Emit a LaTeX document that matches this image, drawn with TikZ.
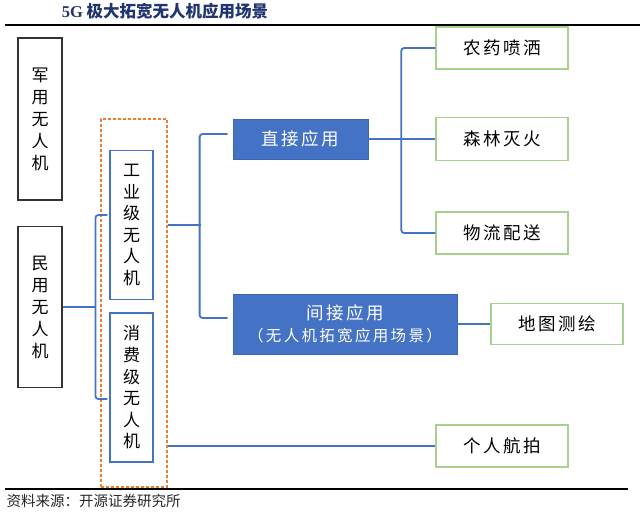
\documentclass[tikz,border=0pt]{standalone}
\usepackage{fontspec}
\setmainfont{Noto Sans CJK SC}
\newfontfamily\cjkw{Noto Sans CJK SC}[LetterSpace=15]
\newfontfamily\lserif{Liberation Serif}
\definecolor{offblue}{HTML}{4472C4}
\definecolor{boxedge}{HTML}{3B66B5}
\definecolor{lgreen}{HTML}{A9D18E}
\definecolor{orng}{HTML}{ED7D31}
\definecolor{navy}{HTML}{1F3470}
\tikzset{
  conn/.style={draw=offblue, line width=1.8pt, rounded corners=3pt},
  blkbox/.style={draw=black!80, line width=1.2pt, fill=white, align=center, inner sep=0pt, font=\cjkw\fontsize{17}{22}\selectfont},
  bluebox/.style={draw=offblue, line width=1.2pt, fill=white, align=center, inner sep=0pt, font=\cjkw\fontsize{17}{21.6}\selectfont},
  solidbox/.style={draw=boxedge, line width=0.8pt, fill=offblue, text=white, align=center, inner sep=0pt, font=\cjkw\fontsize{17.5}{22}\selectfont},
  greenbox/.style={draw=lgreen, line width=1.5pt, fill=white, align=center, inner sep=0pt, font=\cjkw\fontsize{17.5}{22}\selectfont},
  grpbox/.style={draw=orng, line width=1.3pt, dashed, dash pattern=on 3pt off 2pt, inner sep=0pt}
}
\begin{document}
\begin{tikzpicture}[x=1pt,y=-1pt]
\useasboundingbox (0,0) rectangle (640,512);
% title and rules
\node[font=\bfseries\fontsize{16.5}{19}\selectfont, text=navy] (title) at (165,11) {{\lserif\bfseries 5G} 极大拓宽无人机应用场景};
\draw[line width=1.8pt] (5,25) -- (640,25);
\draw[line width=1.8pt] (5,489) -- (628,489);
\node[anchor=west, font=\fontsize{14.5}{17}\selectfont, text=black!85] (src) at (3,501) {资料来源：开源证券研究所};
% left boxes
\node[blkbox, minimum width=44pt, minimum height=162pt] (mil) at (40,119) {军\\用\\无\\人\\机};
\node[blkbox, minimum width=44pt, minimum height=161pt] (civ) at (40,307) {民\\用\\无\\人\\机};
% dashed group
\node[grpbox, minimum width=66pt, minimum height=368pt] (grp) at (134,303) {};
\node[bluebox, minimum width=43pt, minimum height=149pt] (ind) at (131.5,225) {工\\业\\级\\无\\人\\机};
\node[bluebox, minimum width=43pt, minimum height=149pt] (con) at (131.5,387.5) {消\\费\\级\\无\\人\\机};
% application boxes
\node[solidbox, minimum width=135pt, minimum height=40pt] (dir) at (300.5,139) {直接应用};
\node[solidbox, minimum width=224pt, minimum height=60pt] (indir) at (345,324) {间接应用\\{\fontsize{15.5}{22}\selectfont （无人机拓宽应用场景）}};
\node[greenbox, minimum width=132pt, minimum height=42pt] (a1) at (502,48) {农药喷洒};
\node[greenbox, minimum width=132pt, minimum height=43pt] (a2) at (502,139) {森林灭火};
\node[greenbox, minimum width=132pt, minimum height=42pt] (a3) at (502,233) {物流配送};
\node[greenbox, minimum width=132pt, minimum height=41pt] (a4) at (557,324) {地图测绘};
\node[greenbox, minimum width=132pt, minimum height=42pt] (a5) at (502,446) {个人航拍};
% connectors
\coordinate (b1) at (96,307);
\draw[conn] (civ.east) -- (b1);
\draw[conn] ([shift={(-2,-10)}]ind.west) -- ++(-12,0) -- ([shift={(-14,11.5)}]con.west) -- ++(12,0);
\draw[conn] (grp.east |- ind.east) -- ++(33,0);
\draw[conn] ([shift={(-5,-5)}]dir.west) -- ++(-28,0) -- ([shift={(-33,-6)}]indir.west) -- ++(28,0);
\draw[conn] (dir.east) -- (a2.west);
\draw[conn] (a1.west) -- ++(-34,0) -- ([xshift=-34pt]a3.west) -- (a3.west);
\draw[conn] (indir.east) -- (a4.west);
\draw[conn] (grp.east |- a5.west) -- (a5.west);
\end{tikzpicture}
\end{document}
